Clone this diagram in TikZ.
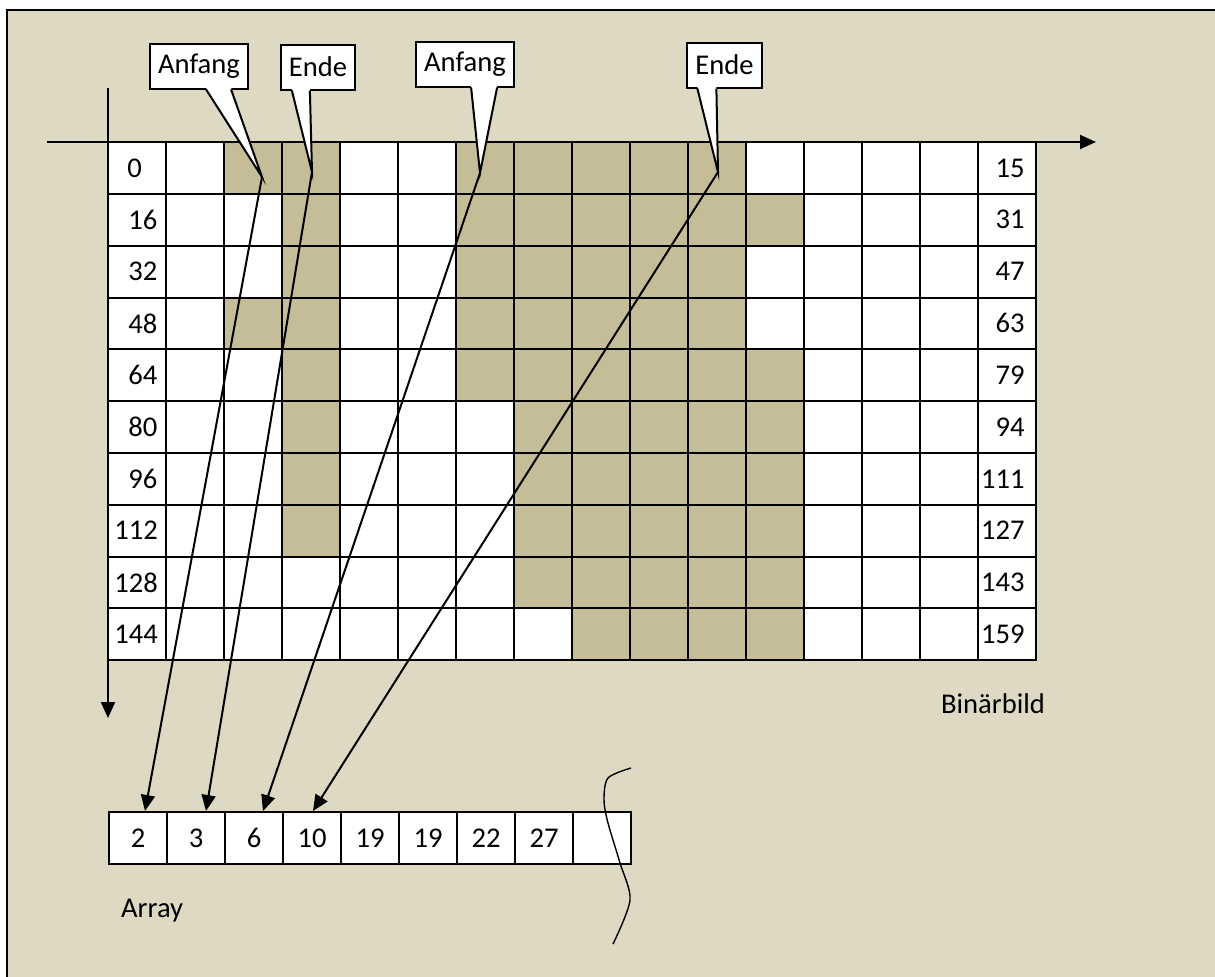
\documentclass[tikz,border=0pt]{standalone}
\usepackage{fontspec}
\setmainfont{Carlito}
\usepackage{tikz}
\usetikzlibrary{arrows.meta,calc}
\definecolor{bgbeige}{RGB}{221,217,195}
\definecolor{celltan}{RGB}{196,189,151}
% pointer of a callout box: node, left and right offset of the base, tip
\newcommand{\callptr}[4]{%
  \fill[white] ($(#1.south west)+(#2,-1.5)$) -- (#4) -- ($(#1.south west)+(#3,-1.5)$) -- cycle;
  \draw[line width=1pt] ($(#1.south west)+(#2,0)$) -- (#4) -- ($(#1.south west)+(#3,0)$);}

\begin{document}
\begin{tikzpicture}[x=0.5pt, y=-0.5pt,
  every node/.style={font=\fontsize{14.3}{17}\selectfont},
  cell/.style={draw, line width=1pt, fill=white, minimum width=29pt, minimum height=25.9pt, inner sep=0pt},
  num/.style={inner sep=0pt},
  callbox/.style={draw, fill=white, line width=1pt, minimum height=22.5pt, inner xsep=4pt, inner ysep=0pt},
  conn/.style={line width=1pt, -{Triangle[length=8pt,width=7pt]}},
  axis/.style={line width=1pt, -{Triangle[length=8pt,width=7pt]}},
]
\useasboundingbox (0,0) rectangle (1215,976);
% ===================== Background =====================
\draw[line width=1pt, fill=bgbeige] (7,10) rectangle (1260,1020);

% ===================== Binary image =====================
\foreach \r in {0,...,9}
  \foreach \c in {0,...,15}
    \node[cell] (g-\r-\c) at ({137+58*\c},{168+51.8*\r}) {};

% shaded pixels
\foreach \r/\cols in {0/{2,3,6,7,8,9,10}, 1/{3,6,7,8,9,10,11}, 2/{3,6,7,8,9,10},
    3/{2,3,6,7,8,9,10}, 4/{3,6,7,8,9,10,11}, 5/{3,7,8,9,10,11}, 6/{3,7,8,9,10,11},
    7/{3,7,8,9,10,11}, 8/{7,8,9,10,11}, 9/{8,9,10,11}}
  \foreach \c in \cols
    \node[cell, fill=celltan] (s-\r-\c) at (g-\r-\c) {};

% pixel indices
\foreach \r/\n/\lx in {0/0/127, 1/16/128, 2/32/128, 3/48/128, 4/64/128, 5/80/128,
    6/96/128, 7/112/114, 8/128/114, 9/144/114}
  \node[num, anchor=west] (l-\r) at (\lx,{168+51.8*\r}) {\n};
\foreach \r/\n in {0/15, 1/31, 2/47, 3/63, 4/79, 5/94, 6/111, 7/127, 8/143, 9/159}
  \node[num, anchor=east] (e-\r) at (1025,{168+51.8*\r}) {\n};

% axes
\draw[axis] (47,142) -- (1096,142);
\draw[axis] (108,88) -- (108,718);

\node[anchor=base west] (bild) at (934,713) {Binärbild};

% ===================== Callouts =====================
\coordinate (t1) at (262,177);
\coordinate (t2) at (312,172);
\coordinate (t3) at (480,173);
\coordinate (t4) at (718,172);

\node[callbox] (anf1) at (199,66) {Anfang};
\callptr{anf1}{57}{82}{t1}
\node[callbox] (end1) at (318,67) {Ende};
\callptr{end1}{12}{30}{t2}
\node[callbox] (anf2) at (465,64) {Anfang};
\callptr{anf2}{56}{82}{t3}
\node[callbox] (end2) at (724.5,65) {Ende};
\callptr{end2}{11}{30}{t4}

% ===================== Array =====================
\foreach \i/\v in {0/2, 1/3, 2/6, 3/10, 4/19, 5/19, 6/22, 7/27, 8/{}}
  \node[cell, minimum height=26pt] (arr\i) at ({138+58*\i},838) {\v};

\node[anchor=base west] (arrlbl) at (114,917) {Array};

% cut mark
\draw[line width=0.7pt] plot[smooth] coordinates {(631,768) (608,778) (604,800) (608,823) (620,863) (630,900) (613,944)};

% run starts and ends into the array
\draw[conn] (t1) -- ([xshift=3.5pt]arr0.north);
\draw[conn] (t2) -- ([xshift=5pt]arr1.north);
\draw[conn] (t3) -- ([xshift=4.5pt]arr2.north);
\draw[conn] (t4) -- ([xshift=0.5pt]arr3.north);

\end{tikzpicture}
\end{document}
